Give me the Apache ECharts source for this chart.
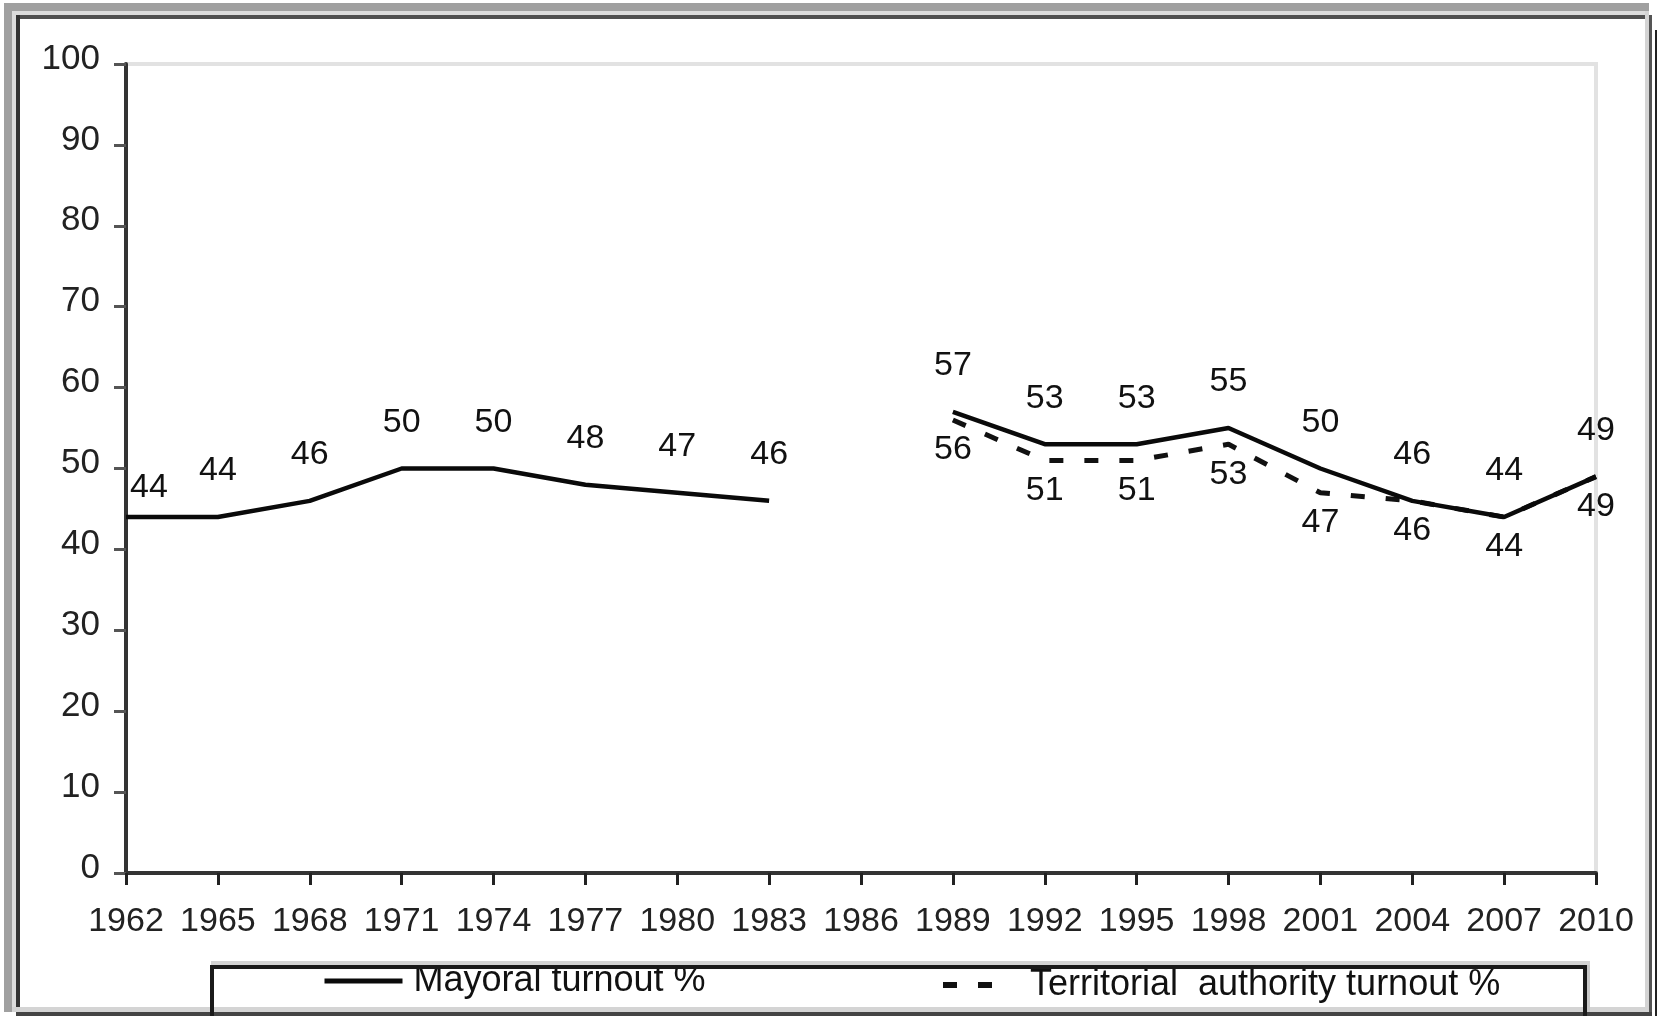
<!DOCTYPE html>
<html>
<head>
<meta charset="utf-8">
<script src="https://cdn.jsdelivr.net/npm/echarts@6/dist/echarts.min.js"></script>
<style>
html,body{margin:0;padding:0;background:#fff;}
#chart{width:1657px;height:1016px;}
</style>
</head>
<body>
<div id="chart"></div>
<script>
// ---- data ----
var years = ['1962','1965','1968','1971','1974','1977','1980','1983','1986','1989','1992','1995','1998','2001','2004','2007','2010'];
var mayoralTurnout = [44, 44, 46, 50, 50, 48, 47, 46, null, 57, 53, 53, 55, 50, 46, 44, 49];
var territorialTurnout = [null, null, null, null, null, null, null, null, null, 56, 51, 51, 53, 47, 46, 44, 49];
var yTicks = [0, 10, 20, 30, 40, 50, 60, 70, 80, 90, 100];
var seriesNames = ['Mayoral turnout %', 'Territorial  authority turnout %'];

var FONT = "'Liberation Sans', Arial, Helvetica, sans-serif";
var chart = echarts.init(document.getElementById('chart'), null, {renderer: 'canvas'});

var mayoralData = mayoralTurnout.map(function (v, i) {
  var d = {value: v};
  if (i === 0) d.label = {offset: [23, 17]};
  return d;
});

var DASH = [14, 21];

function frameRect(x, y, w, h, c) {
  return {type: 'rect', shape: {x: x, y: y, width: w, height: h}, style: {fill: c}, silent: true, z: 100};
}

var option = {
  backgroundColor: '#ffffff',
  animation: false,
  textStyle: {fontFamily: FONT},
  grid: {left: 126, right: 61, top: 64, bottom: 143, show: true, borderColor: '#e2e2e2', borderWidth: 4, backgroundColor: 'transparent'},
  xAxis: {
    type: 'category',
    data: years,
    boundaryGap: false,
    axisLine: {show: true, lineStyle: {color: '#333', width: 4}},
    axisTick: {show: true, length: 12, alignWithLabel: true, lineStyle: {color: '#222', width: 3}},
    axisLabel: {color: '#222', fontSize: 34, fontFamily: FONT, margin: 32, interval: 0},
    splitLine: {show: false}
  },
  yAxis: {
    type: 'value',
    min: yTicks[0],
    max: yTicks[yTicks.length - 1],
    interval: yTicks[1] - yTicks[0],
    axisLine: {show: true, lineStyle: {color: '#333', width: 4}},
    axisTick: {show: true, length: 12, lineStyle: {color: '#555', width: 3}},
    axisLabel: {color: '#222', fontSize: 35, fontFamily: FONT, margin: 26, verticalAlign: 'bottom', lineHeight: 10},
    splitLine: {show: false}
  },
  legend: [
    {
      data: [seriesNames[0]],
      left: 322, top: 963, padding: 0,
      itemWidth: 78, itemHeight: 36,
      itemStyle: {opacity: 0, color: 'rgba(0,0,0,0)', borderWidth: 0},
      lineStyle: {color: '#0a0a0a', width: 5, type: 'solid'},
      textStyle: {fontSize: 36, color: '#111', fontFamily: FONT, padding: [0, 0, 0, 6]},
      selectedMode: false
    },
    {
      data: [seriesNames[1]],
      left: 940, top: 967, padding: 0,
      itemWidth: 57, itemHeight: 36,
      itemStyle: {opacity: 0, color: 'rgba(0,0,0,0)', borderWidth: 0},
      lineStyle: {color: '#111', width: 6, type: DASH},
      textStyle: {fontSize: 36, color: '#111', fontFamily: FONT, padding: [0, 0, 0, 25]},
      selectedMode: false
    }
  ],
  series: [
    {
      name: seriesNames[1],
      type: 'line',
      data: territorialTurnout,
      symbol: 'circle',
      symbolSize: 2,
      connectNulls: false,
      lineStyle: {color: '#111', width: 5, type: DASH},
      itemStyle: {color: 'rgba(0,0,0,0)', borderWidth: 0},
      label: {show: true, position: 'bottom', distance: 12, fontSize: 34, color: '#111', fontFamily: FONT},
      z: 2
    },
    {
      name: seriesNames[0],
      type: 'line',
      data: mayoralData,
      symbol: 'circle',
      symbolSize: 2,
      connectNulls: false,
      lineStyle: {color: '#0a0a0a', width: 4.5, type: 'solid'},
      itemStyle: {color: 'rgba(0,0,0,0)', borderWidth: 0},
      label: {show: true, position: 'top', distance: 28, fontSize: 34, color: '#111', fontFamily: FONT},
      z: 3
    }
  ],
  graphic: [
    // outer frame
    frameRect(4, 3, 1645, 8, '#a0a0a0'),
    frameRect(4, 3, 8, 1009, '#a0a0a0'),
    frameRect(12, 11, 1633, 4, '#dcdcdc'),
    frameRect(12, 11, 4, 996, '#dcdcdc'),
    frameRect(16, 15, 1633, 4, '#505050'),
    frameRect(16, 15, 4, 1001, '#333333'),
    frameRect(1645, 11, 4, 1001, '#d4d4d4'),
    frameRect(1649, 15, 3, 1001, '#555555'),
    frameRect(1655, 30, 2, 986, '#222222'),
    frameRect(12, 1007, 1637, 5, '#d4d4d4'),
    frameRect(16, 1012, 1636, 4, '#444444'),
    // legend box
    frameRect(211, 961, 1379, 4, '#d4d4d4'),
    frameRect(1587, 965, 3, 47, '#c8c8c8'),
    {type: 'rect', shape: {x: 212, y: 967, width: 1373, height: 60}, style: {fill: 'none', stroke: '#1a1a1a', lineWidth: 4}, silent: true, z: 100}
  ]
};
chart.setOption(option);
</script>
</body>
</html>
